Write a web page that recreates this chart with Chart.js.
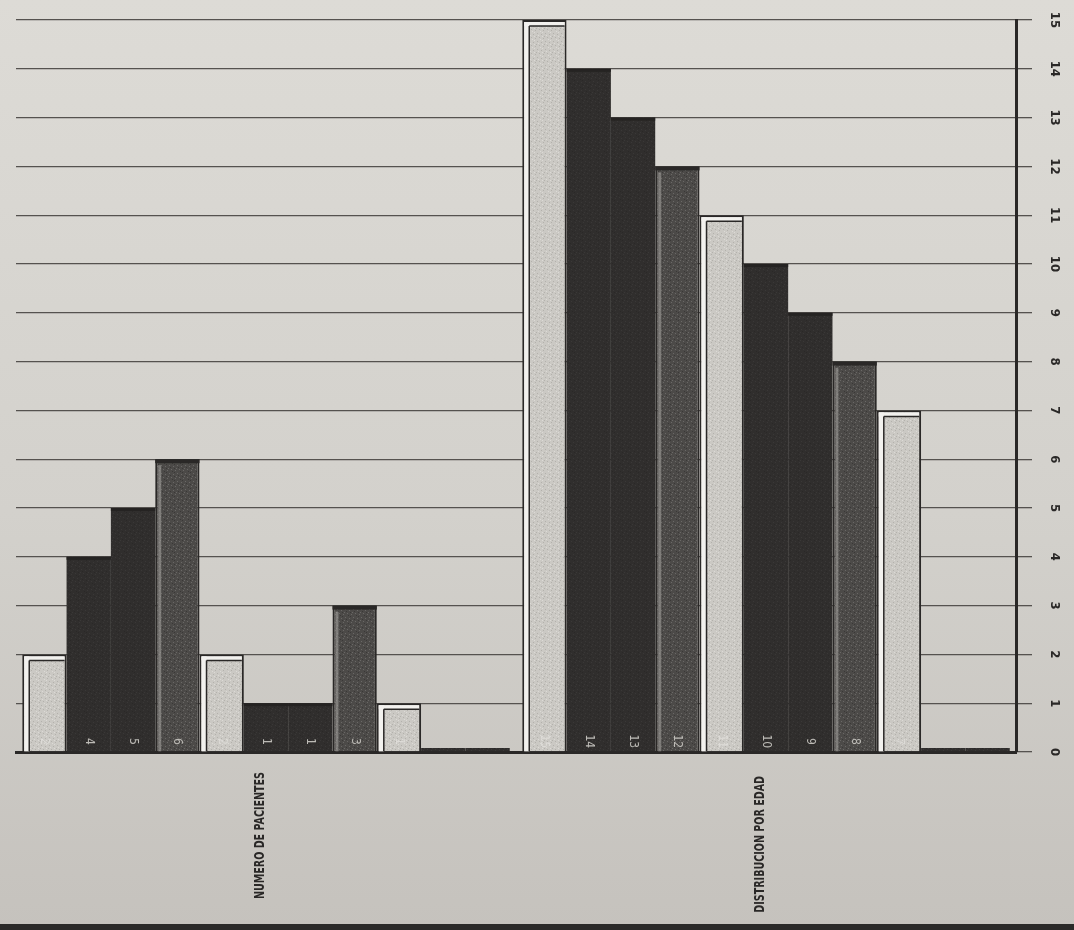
<!DOCTYPE html>
<html><head><meta charset="utf-8">
<script src="https://cdn.jsdelivr.net/npm/chart.js@4"></script>
<style>
html,body{margin:0;padding:0;}
body{width:1074px;height:930px;background:linear-gradient(180deg,#dddbd6 0%,#d3d1cc 55%,#c5c2bd 100%);position:relative;overflow:hidden;}
#wrap{position:absolute;left:0;top:0;width:1074px;height:922px;}
#edge{position:absolute;left:0;top:924px;width:1074px;height:6px;background:#2b2a29;}
</style></head><body>
<div id="wrap"><canvas id="c"></canvas></div><div id="edge"></div>
<script>
// ---- data ----
const categories = ['NUMERO DE PACIENTES', 'DISTRIBUCION POR EDAD'];
const numeroDePacientes = [2, 4, 5, 6, 2, 1, 1, 3, 1, 0, 0];
const distribucionPorEdad = [15, 14, 13, 12, 11, 10, 9, 8, 7, 0, 0];
const seriesNames = ['S1','S2','S3','S4','S5','S6','S7','S8','S9','S10','S11'];
const yTickLabels = ['0','1','2','3','4','5','6','7','8','9','10','11','12','13','14','15'];

// ---- styles ----
const shade = ['light','dark','dark','medium','light','dark','dark','medium','light','dark','dark'];
function stipple(base, dot, dot2){
  const c = document.createElement('canvas'); c.width = 8; c.height = 8;
  const g = c.getContext('2d');
  g.fillStyle = base; g.fillRect(0,0,8,8);
  g.fillStyle = dot;
  [[1,1],[5,2],[3,5],[7,6],[0,4]].forEach(p=>g.fillRect(p[0],p[1],1,1));
  g.fillStyle = dot2;
  [[6,0],[2,3],[4,7],[6,4]].forEach(p=>g.fillRect(p[0],p[1],1,1));
  return g.createPattern(c,'repeat');
}
const fills = {
  light: stipple('#cbc9c4', '#b3b1ac', '#dcdad6'),
  dark: stipple('#302e2d', '#3a3837', '#2a2827'),
  medium: stipple('#4c4a48', '#6a6866', '#3a3837')
};
const borders = {light:'#2a2827', dark:'#2c2a29', medium:'#2a2827'};
const FONT = '"Liberation Sans Narrow", "DejaVu Sans Condensed", "Liberation Sans", sans-serif';

const datasets = seriesNames.map((n,i)=>({
  label: n,
  data: [numeroDePacientes[i], distribucionPorEdad[i]],
  backgroundColor: fills[shade[i]],
  borderColor: borders[shade[i]],
  borderWidth: shade[i]==='dark' ? 0 : 2,
  minBarLength: 4,
  barPercentage: 1.0,
  categoryPercentage: 0.975
}));

const decor = {
  id: 'decor',
  afterDatasetsDraw(chart){
    const ctx = chart.ctx;
    chart.data.datasets.forEach((ds, i)=>{
      const meta = chart.getDatasetMeta(i);
      meta.data.forEach((bar, j)=>{
        const v = ds.data[j];
        if (!v) return;
        const left = bar.x - bar.width/2, top = bar.y, h = bar.base - bar.y;
        ctx.save();
        if (shade[i]==='light'){
          ctx.fillStyle = '#f2f1ee';
          ctx.fillRect(left+2, top+2, 5, h-2);
          ctx.fillRect(left+2, top+2, bar.width-4, 4);
          ctx.strokeStyle = '#2a2827'; ctx.lineWidth = 1.5;
          ctx.beginPath(); ctx.moveTo(left+7, top+6); ctx.lineTo(left+7, bar.base);
          ctx.moveTo(left+7, top+6); ctx.lineTo(left+bar.width-2, top+6); ctx.stroke();
        } else if (shade[i]==='medium'){
          ctx.fillStyle = 'rgba(170,168,164,0.55)';
          ctx.fillRect(left+3, top+6, 3, h-6);
          ctx.fillStyle = '#2a2827';
          ctx.fillRect(left, top, bar.width, 4);
        } else {
          ctx.fillStyle = '#252322';
          ctx.fillRect(left, top, bar.width, 3);
        }
        ctx.translate(bar.x, bar.base - 10);
        ctx.rotate(Math.PI/2);
        ctx.fillStyle = shade[i]==='light' ? 'rgba(225,224,220,0.8)' : '#bdbbb6';
        ctx.font = '12px ' + FONT;
        ctx.textAlign = 'center'; ctx.textBaseline = 'middle';
        ctx.fillText(String(v), 0, 0);
        ctx.restore();
      });
    });
  },
  afterDraw(chart){
    const ctx = chart.ctx, ys = chart.scales.y, xs = chart.scales.x;
    ctx.save();
    ctx.fillStyle = '#2a2827';
    ctx.font = 'bold 13px ' + FONT;
    ctx.textAlign = 'center'; ctx.textBaseline = 'middle';
    yTickLabels.forEach(t=>{
      const py = ys.getPixelForValue(Number(t));
      ctx.save();
      ctx.translate(chart.chartArea.right + 38, py);
      ctx.rotate(Math.PI/2);
      ctx.fillText(t, 0, 0);
      ctx.restore();
    });
    // category labels, rotated, reading bottom to top
    ctx.font = 'bold 14px ' + FONT;
    ctx.fillStyle = '#2a2827';
    ctx.textAlign = 'right';
    categories.forEach((c, i)=>{
      const px = xs.getPixelForTick(i) - 6;
      ctx.save();
      ctx.translate(px, chart.chartArea.bottom + (i === 0 ? 20 : 24));
      ctx.rotate(-Math.PI/2);
      ctx.scale(0.76, 1);
      ctx.fillText(c, 0, 0);
      ctx.restore();
    });
    ctx.restore();
  }
};

new Chart(document.getElementById('c'), {
  type: 'bar',
  data: { labels: categories, datasets },
  options: {
    responsive: true, maintainAspectRatio: false, animation: false,
    layout: { padding: { left: 16, top: 20, right: 42, bottom: 162 } },
    plugins: { legend: { display: false }, tooltip: { enabled: false } },
    scales: {
      x: {
        grid: { display: false },
        border: { display: true, color: '#2a2827', width: 3 },
        ticks: { display: false }
      },
      y: {
        position: 'right', min: 0, max: 15,
        ticks: { stepSize: 1, display: false },
        grid: { color: '#55524f', lineWidth: 1.3, tickLength: 16 },
        border: { display: true, color: '#2a2827', width: 3 }
      }
    }
  },
  plugins: [decor]
});
</script>
</body></html>
